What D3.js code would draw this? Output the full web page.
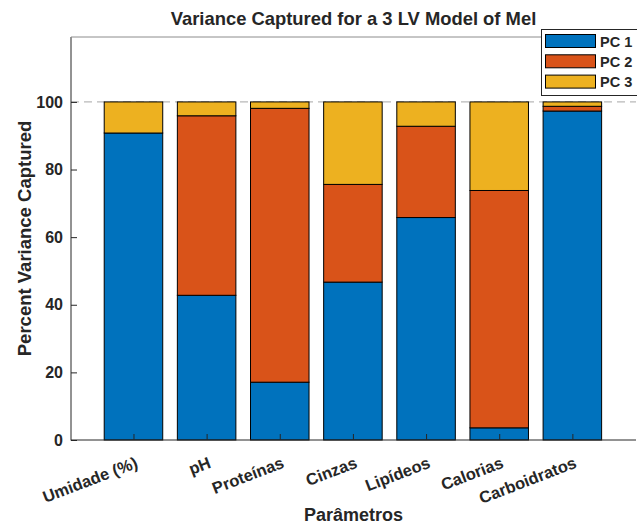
<!DOCTYPE html>
<html><head><meta charset="utf-8">
<script src="https://cdn.jsdelivr.net/npm/d3@7"></script>
<style>body{margin:0;background:#fff}svg{display:block}text{font-family:"Liberation Sans",Arial,sans-serif;font-weight:bold;fill:#262626}</style>
</head><body><svg id="c" width="637" height="524"></svg>
<script>
const categories = ["Umidade (%)","pH","Proteínas","Cinzas","Lipídeos","Calorias","Carboidratos"];
const seriesNames = ["PC 1","PC 2","PC 3"];
const pc1 = [90.8, 42.8, 17.1, 46.7, 65.8, 3.6, 97.3];
const pc2 = [0, 53.1, 81.0, 28.9, 27.0, 70.2, 1.4];
const pc3 = [9.2, 4.1, 1.9, 24.4, 7.2, 26.2, 1.3];
const yTicks = [0, 20, 40, 60, 80, 100];
const colors = ["#0072BD","#D95319","#EDB120"];

const svg = d3.select("#c");
const L = 71, R = 636, T = 37, B = 440;
const x = d3.scaleLinear().domain([0.146, 7.87]).range([L, R]);
const y = d3.scaleLinear().domain([0, 119.2]).range([B, T]);
const bw = x(0.8) - x(0);

// dashed 100 line
svg.append("line").attr("x1", L).attr("x2", R).attr("y1", y(100)).attr("y2", y(100))
  .attr("stroke", "#a6a6a6").attr("stroke-width", 1).attr("stroke-dasharray", "8,5");

const series = [pc1, pc2, pc3];
categories.forEach((c, i) => {
  let base = 0;
  series.forEach((s, k) => {
    const v = s[i];
    if (v > 0) {
      svg.append("rect")
        .attr("x", x(i + 1) - bw / 2).attr("width", bw)
        .attr("y", y(base + v)).attr("height", y(base) - y(base + v))
        .attr("fill", colors[k]).attr("stroke", "#000").attr("stroke-width", 1);
    }
    base += v;
  });
});

// axes
const ya = d3.axisLeft(y).tickValues(yTicks).tickSize(-6).tickPadding(8);
const gy = svg.append("g").attr("transform", `translate(${L},0)`).call(ya);
gy.select(".domain").remove();
gy.selectAll("line").attr("stroke", "#262626");
gy.selectAll("text").style("font-size", "16px").style("font-family", "Liberation Sans, Arial").style("font-weight", "bold").attr("fill", "#262626");

const xa = d3.axisBottom(x).tickValues(d3.range(1, 8)).tickSize(-6).tickFormat("");
const gx = svg.append("g").attr("transform", `translate(0,${B})`).call(xa);
gx.select(".domain").remove();
gx.selectAll("line").attr("stroke", "#262626");

svg.append("line").attr("x1", L).attr("x2", L).attr("y1", T).attr("y2", B + 0.5).attr("stroke", "#262626");
svg.append("line").attr("x1", L).attr("x2", R).attr("y1", B).attr("y2", B).attr("stroke", "#262626");
svg.append("line").attr("x1", L).attr("x2", R).attr("y1", T).attr("y2", T).attr("stroke", "#8c8c8c");

// x tick labels
categories.forEach((c, i) => {
  svg.append("text").text(c)
    .attr("transform", `translate(${x(i + 1) + 1},456) rotate(-21)`)
    .attr("text-anchor", "end").attr("dominant-baseline", "hanging")
    .style("font-size", "16.5px");
});

// title and labels
svg.append("text").text("Variance Captured for a 3 LV Model of Mel")
  .attr("x", (L + R) / 2).attr("y", 25).attr("text-anchor", "middle").style("font-size", "18.4px").attr("fill", "#000");
svg.append("text").text("Percent Variance Captured")
  .attr("transform", `translate(31,${(T + B) / 2}) rotate(-90)`).attr("text-anchor", "middle").style("font-size", "18.5px");
svg.append("text").text("Parâmetros")
  .attr("x", (L + R) / 2).attr("y", 521).attr("text-anchor", "middle").style("font-size", "18px");

// legend
const lg = svg.append("g");
lg.append("rect").attr("x", 541.5).attr("y", 29.5).attr("width", 110).attr("height", 66)
  .attr("fill", "#fff").attr("stroke", "#262626").attr("stroke-width", 1);
seriesNames.forEach((n, k) => {
  const yy = 34 + k * 20.3;
  lg.append("rect").attr("x", 545.5).attr("y", yy + 0.5).attr("width", 50).attr("height", 13)
    .attr("fill", colors[k]).attr("stroke", "#000").attr("stroke-width", 1);
  lg.append("text").text(n).attr("x", 600).attr("y", yy + 12.5).style("font-size", "14.5px").attr("fill", "#000");
});
</script></body></html>
